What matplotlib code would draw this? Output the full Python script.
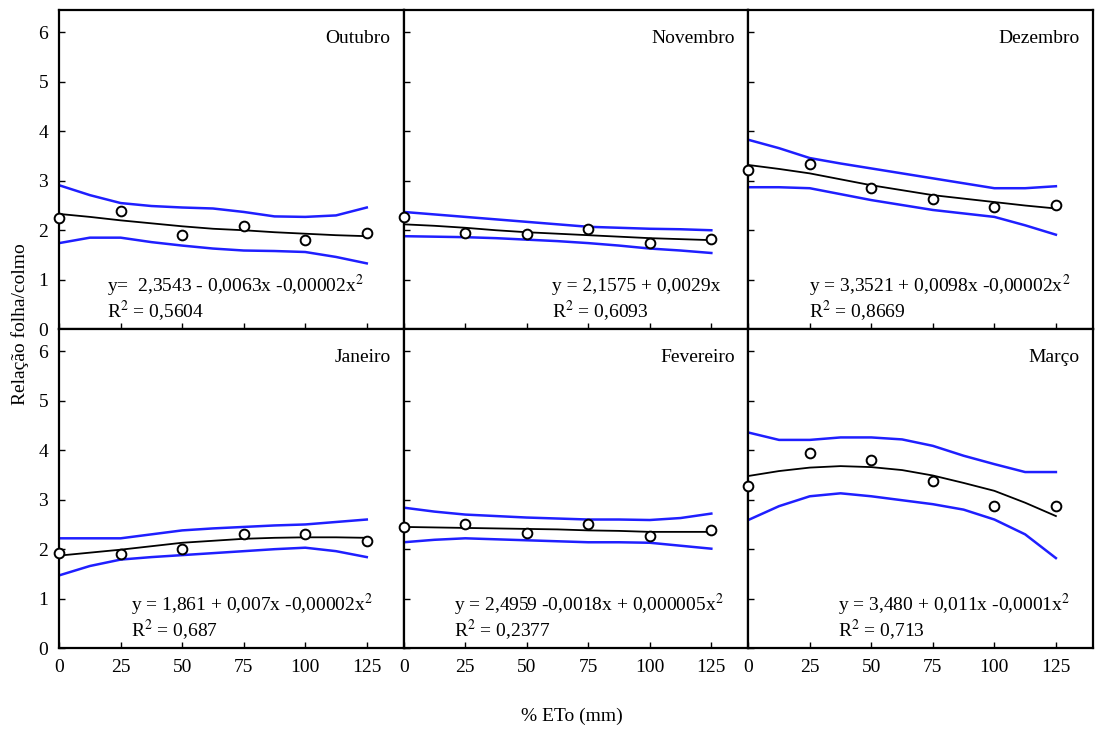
import matplotlib.pyplot as plt

plt.rcParams['font.family'] = ['Liberation Serif', 'DejaVu Serif']
plt.rcParams['mathtext.fontset'] = 'stix'

doses = [0, 25, 50, 75, 100, 125]
curve_x = [0, 12.5, 25, 37.5, 50, 62.5, 75, 87.5, 100, 112.5, 125]

months = ['Outubro', 'Novembro', 'Dezembro', 'Janeiro', 'Fevereiro', 'Março']

# observed means
obs = {
    'Outubro':   [2.24, 2.39, 1.90, 2.08, 1.80, 1.95],
    'Novembro':  [2.26, 1.95, 1.92, 2.02, 1.75, 1.83],
    'Dezembro':  [3.22, 3.33, 2.85, 2.63, 2.47, 2.51],
    'Janeiro':   [1.93, 1.91, 2.01, 2.30, 2.31, 2.16],
    'Fevereiro': [2.45, 2.51, 2.33, 2.51, 2.26, 2.39],
    'Março':     [3.28, 3.95, 3.80, 3.38, 2.87, 2.87],
}

# fitted curve (read at curve_x)
fit = {
    'Outubro':   [2.33, 2.27, 2.20, 2.14, 2.08, 2.03, 2.00, 1.96, 1.93, 1.90, 1.88],
    'Novembro':  [2.12, 2.09, 2.05, 2.00, 1.96, 1.93, 1.90, 1.87, 1.84, 1.82, 1.80],
    'Dezembro':  [3.32, 3.24, 3.15, 3.03, 2.91, 2.81, 2.71, 2.64, 2.57, 2.50, 2.44],
    'Janeiro':   [1.87, 1.93, 1.99, 2.06, 2.13, 2.17, 2.21, 2.23, 2.24, 2.24, 2.23],
    'Fevereiro': [2.45, 2.44, 2.43, 2.42, 2.41, 2.40, 2.38, 2.37, 2.35, 2.35, 2.35],
    'Março':     [3.48, 3.58, 3.65, 3.68, 3.66, 3.60, 3.49, 3.34, 3.18, 2.94, 2.67],
}

# confidence band, upper and lower (read at curve_x)
upper = {
    'Outubro':   [2.91, 2.71, 2.55, 2.49, 2.46, 2.44, 2.37, 2.28, 2.27, 2.30, 2.46],
    'Novembro':  [2.37, 2.32, 2.27, 2.22, 2.17, 2.12, 2.07, 2.05, 2.03, 2.02, 2.00],
    'Dezembro':  [3.83, 3.66, 3.46, 3.35, 3.25, 3.15, 3.05, 2.95, 2.85, 2.85, 2.89],
    'Janeiro':   [2.22, 2.22, 2.22, 2.30, 2.38, 2.42, 2.45, 2.48, 2.50, 2.55, 2.60],
    'Fevereiro': [2.84, 2.76, 2.70, 2.67, 2.64, 2.62, 2.60, 2.60, 2.59, 2.63, 2.72],
    'Março':     [4.36, 4.21, 4.21, 4.26, 4.26, 4.22, 4.09, 3.89, 3.72, 3.56, 3.56],
}
lower = {
    'Outubro':   [1.74, 1.85, 1.85, 1.76, 1.69, 1.63, 1.59, 1.58, 1.56, 1.46, 1.33],
    'Novembro':  [1.88, 1.87, 1.86, 1.84, 1.81, 1.78, 1.74, 1.69, 1.63, 1.59, 1.54],
    'Dezembro':  [2.87, 2.87, 2.85, 2.73, 2.61, 2.51, 2.41, 2.34, 2.27, 2.10, 1.91],
    'Janeiro':   [1.47, 1.66, 1.79, 1.84, 1.88, 1.92, 1.96, 2.00, 2.03, 1.96, 1.84],
    'Fevereiro': [2.14, 2.19, 2.22, 2.20, 2.18, 2.16, 2.14, 2.14, 2.13, 2.07, 2.01],
    'Março':     [2.59, 2.87, 3.07, 3.13, 3.07, 2.99, 2.91, 2.80, 2.60, 2.30, 1.82],
}

equations = {
    'Outubro':   ('y=  2,3543 - 0,0063x -0,00002x$^2$', 'R$^2$ = 0,5604'),
    'Novembro':  ('y = 2,1575 + 0,0029x', 'R$^2$ = 0,6093'),
    'Dezembro':  ('y = 3,3521 + 0,0098x -0,00002x$^2$', 'R$^2$ = 0,8669'),
    'Janeiro':   ('y = 1,861 + 0,007x -0,00002x$^2$', 'R$^2$ = 0,687'),
    'Fevereiro': ('y = 2,4959 -0,0018x + 0,000005x$^2$', 'R$^2$ = 0,2377'),
    'Março':     ('y = 3,480 + 0,011x -0,0001x$^2$', 'R$^2$ = 0,713'),
}
eq_x = {'Outubro': 0.138, 'Novembro': 0.43, 'Dezembro': 0.175,
        'Janeiro': 0.21, 'Fevereiro': 0.145, 'Março': 0.26}

fig, axes = plt.subplots(2, 3, figsize=(10.95, 7.29), dpi=100, sharex=True, sharey=True)
fig.subplots_adjust(left=0.054, right=0.998, top=0.986, bottom=0.111, wspace=0, hspace=0)

for ax, m in zip(axes.flat, months):
    ax.plot(curve_x, upper[m], color='#1f1fff', lw=1.8)
    ax.plot(curve_x, lower[m], color='#1f1fff', lw=1.8)
    ax.plot(curve_x, fit[m], color='black', lw=1.3)
    ax.plot(doses, obs[m], 'o', mfc='white', mec='black', mew=1.4, ms=7, clip_on=False, zorder=5)
    ax.text(0.962, 0.912, m, transform=ax.transAxes, ha='right', va='center', fontsize=14)
    l1, l2 = equations[m]
    ax.text(eq_x[m], 0.135, l1, transform=ax.transAxes, ha='left', va='center', fontsize=14)
    ax.text(eq_x[m], 0.058, l2, transform=ax.transAxes, ha='left', va='center', fontsize=14)
    ax.set_xlim(0, 140)
    ax.set_ylim(0, 6.45)
    ax.set_xticks(doses)
    ax.set_yticks(range(7))
    ax.tick_params(direction='in', length=4, width=1, labelsize=14, pad=8)
    for s in ax.spines.values():
        s.set_linewidth(1.6)

fig.text(0.018, 0.556, 'Relação folha/colmo', rotation=90, ha='center', va='center', fontsize=14)
fig.text(0.522, 0.017, '% ETo (mm)', ha='center', va='center', fontsize=14)

fig.savefig('out.png')
